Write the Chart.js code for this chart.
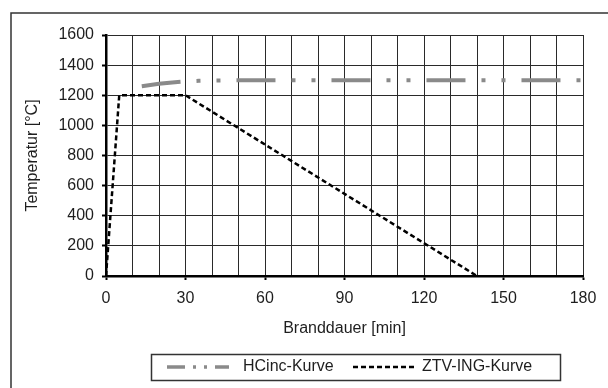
<!DOCTYPE html>
<html>
<head>
<meta charset="utf-8">
<script src="https://cdn.jsdelivr.net/npm/chart.js@4.4.1/dist/chart.umd.min.js"></script>
<style>
  html, body { margin: 0; padding: 0; background: #fff; }
  #wrap { width: 608px; height: 388px; }
</style>
</head>
<body>
<div id="wrap"><canvas id="c" width="608" height="388"></canvas></div>
<script>
// Brandkurven: Temperatur über Branddauer
const hcincMinutes = [13.5, 20, 25, 30, 35, 40, 50, 60, 90, 120, 150, 180];
const hcincTemps   = [1260, 1276, 1285, 1292, 1296, 1298, 1300, 1300, 1300, 1300, 1300, 1300];

const ztvMinutes = [0, 5, 30, 140];
const ztvTemps   = [0, 1200, 1200, 0];

const timeTickLabels = [0, 30, 60, 90, 120, 150, 180];
const tempTickLabels = [0, 200, 400, 600, 800, 1000, 1200, 1400, 1600];

const seriesNames = ['HCinc-Kurve', 'ZTV-ING-Kurve'];

const toPoints = (xs, ys) => xs.map((x, i) => ({ x: x, y: ys[i] }));

const FONT = { family: "'Liberation Sans', Arial, sans-serif", size: 16 };
const TEXT = '#1e1e1e';

// outer frame and legend box drawn around the plot
const framePlugin = {
  id: 'frameAndLegend',
  afterDraw(chart) {
    const ctx = chart.ctx;
    ctx.save();
    ctx.strokeStyle = '#333';
    ctx.lineWidth = 1.5;
    ctx.beginPath();
    ctx.moveTo(11, 388);
    ctx.lineTo(11, 13);
    ctx.lineTo(608, 13);
    ctx.stroke();

    // legend frame
    ctx.strokeRect(151.5, 354.5, 409, 26);

    const ds = chart.data.datasets;
    const y = 367;
    const items = [
      { x0: 167, x1: 229, tx: 243, dash: [18, 8, 3, 8, 3, 8], width: 3.5, d: ds[0] },
      { x0: 353, x1: 417, tx: 422, dash: [5, 3], width: 2.5, d: ds[1] }
    ];
    items.forEach(it => {
      ctx.setLineDash(it.dash);
      ctx.lineWidth = it.width;
      ctx.strokeStyle = it.d.borderColor;
      ctx.lineCap = 'butt';
      ctx.beginPath();
      ctx.moveTo(it.x0, y);
      ctx.lineTo(it.x1, y);
      ctx.stroke();
      ctx.setLineDash([]);
      ctx.fillStyle = TEXT;
      ctx.font = `${FONT.size}px ${FONT.family}`;
      ctx.textBaseline = 'middle';
      ctx.textAlign = 'left';
      ctx.fillText(it.d.label, it.tx, y);
    });
    ctx.restore();
  }
};

new Chart(document.getElementById('c'), {
  type: 'line',
  data: {
    datasets: [
      {
        label: seriesNames[0],
        data: toPoints(hcincMinutes, hcincTemps),
        borderColor: '#8a8a8a',
        borderWidth: 4,
        borderDash: [39, 16, 4, 16, 4, 16],
        borderDashOffset: 0,
        borderCapStyle: 'butt',
        pointRadius: 0,
        tension: 0,
        fill: false
      },
      {
        label: seriesNames[1],
        data: toPoints(ztvMinutes, ztvTemps),
        borderColor: '#000',
        borderWidth: 2.5,
        borderDash: [5, 3],
        borderCapStyle: 'butt',
        pointRadius: 0,
        tension: 0,
        fill: false
      }
    ]
  },
  options: {
    responsive: false,
    animation: false,
    devicePixelRatio: 1,
    layout: { padding: { left: 12, right: 25, top: 35, bottom: 0 } },
    plugins: {
      legend: { display: false },
      tooltip: { enabled: false }
    },
    scales: {
      x: {
        type: 'linear',
        min: 0,
        max: 180,
        afterFit: s => { s.height = 112; },
        ticks: {
          stepSize: 10,
          autoSkip: false,
          maxRotation: 0,
          padding: 9,
          color: TEXT,
          font: FONT,
          callback: v => timeTickLabels.includes(v) ? String(v) : ''
        },
        grid: {
          color: '#2a2a2a',
          lineWidth: 1,
          tickLength: 4,
          tickWidth: 2,
          tickColor: c => (c.tick && timeTickLabels.includes(c.tick.value)) ? '#000' : 'rgba(0,0,0,0)'
        },
        border: { color: '#000', width: 2.5 },
        title: {
          display: true,
          text: 'Branddauer [min]',
          color: TEXT,
          font: FONT,
          padding: { top: 0, bottom: 50 }
        }
      },
      y: {
        type: 'linear',
        min: 0,
        max: 1600,
        afterFit: s => { s.width = 94; },
        ticks: {
          stepSize: 200,
          padding: 8,
          color: TEXT,
          font: FONT,
          callback: v => tempTickLabels.includes(v) ? String(v) : ''
        },
        grid: {
          color: '#2a2a2a',
          lineWidth: 1,
          tickLength: 4,
          tickWidth: 2,
          tickColor: '#000'
        },
        border: { color: '#000', width: 2.5 },
        title: {
          display: true,
          text: 'Temperatur [°C]',
          color: TEXT,
          font: FONT,
          padding: { top: 11, bottom: 0 }
        }
      }
    }
  },
  plugins: [framePlugin]
});
</script>
</body>
</html>
